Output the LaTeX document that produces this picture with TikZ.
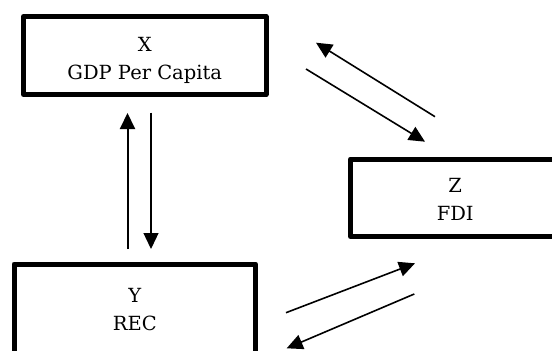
\documentclass[tikz,border=0pt]{standalone}
\usepackage{fontspec}
\setmainfont{DejaVu Serif}
\usetikzlibrary{arrows.meta}
\tikzset{
  varbox/.style={draw=black, line width=5pt, line join=round, fill=none, align=center,
    inner sep=0pt, font=\fontsize{19.5}{28}\selectfont},
  link/.style={line width=1.6pt, -{Triangle[length=16pt,width=15pt]}},
  boldlink/.style={line width=2pt, -{Triangle[length=16pt,width=15pt]}},
  thinlink/.style={line width=1.3pt, -{Triangle[length=16pt,width=15pt]}}
}
\begin{document}
\begin{tikzpicture}[x=1pt,y=-1pt]
\useasboundingbox (0,0) rectangle (552,351);
\node[varbox, minimum width=242.5pt, minimum height=78pt] (X) at (144.75,55.5)
  {\rule{0pt}{23.8pt}X\\GDP Per Capita};
\node[varbox, minimum width=209.5pt, minimum height=77.5pt] (Z) at (455.25,197.75)
  {\rule{0pt}{16.7pt}Z\\FDI};
\node[varbox, minimum width=241.5pt, minimum height=89.5pt] (Y) at (134.75,308.75)
  {\rule{0pt}{15.7pt}Y\\REC};
% X <-> Y
\coordinate (yx0) at (127.5,249);
\coordinate (yx1) at (127.5,113);
\coordinate (xy0) at (151,112.5);
\coordinate (xy1) at (151,249);
\draw[boldlink] (yx0) -- (yx1);
\draw[thinlink] (xy0) -- (xy1);
% Z <-> X
\coordinate (zx0) at (435,116.7);
\coordinate (zx1) at (316,42.7);
\coordinate (xz0) at (306,69);
\coordinate (xz1) at (425,141.7);
\draw[link] (zx0) -- (zx1);
\draw[link] (xz0) -- (xz1);
% Y <-> Z
\coordinate (yz0) at (286,312.7);
\coordinate (yz1) at (415,263.3);
\coordinate (zy0) at (414.3,294);
\coordinate (zy1) at (286.7,348.3);
\draw[link] (yz0) -- (yz1);
\draw[link] (zy0) -- (zy1);
\end{tikzpicture}
\end{document}
